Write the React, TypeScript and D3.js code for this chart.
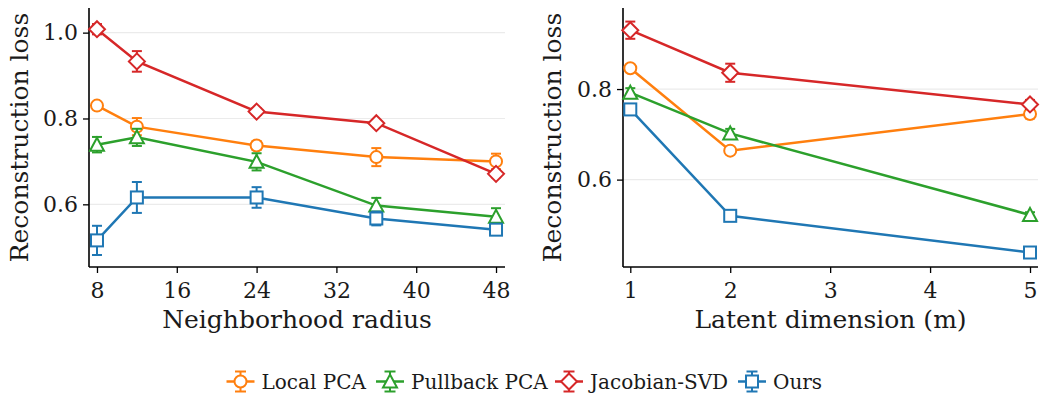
import React, { useEffect, useRef } from 'react';
import * as d3 from 'd3';

const radii = [8, 12, 24, 36, 48];
const dims = [1, 2, 5];

const methods = ['Local PCA', 'Pullback PCA', 'Jacobian-SVD', 'Ours'];
const colors = ['#ff7f0e', '#2ca02c', '#d62728', '#1f77b4'];
const shapes = ['circle', 'triangle', 'diamond', 'square'];

// radius panel: mean and error per method
const radiusMean = [
  [0.830, 0.781, 0.737, 0.710, 0.700],
  [0.739, 0.756, 0.699, 0.597, 0.571],
  [1.008, 0.933, 0.816, 0.789, 0.671],
  [0.516, 0.616, 0.616, 0.567, 0.541],
];
const radiusErr = [
  [0.004, 0.020, 0.010, 0.021, 0.018],
  [0.018, 0.020, 0.020, 0.018, 0.020],
  [0.012, 0.024, 0.008, 0.006, 0.008],
  [0.034, 0.036, 0.024, 0.016, 0.010],
];

// latent dimension panel
const dimMean = [
  [0.846, 0.664, 0.745],
  [0.792, 0.702, 0.522],
  [0.930, 0.836, 0.766],
  [0.755, 0.520, 0.439],
];
const dimErr = [
  [0.004, 0.006, 0.010],
  [0.010, 0.010, 0.006],
  [0.019, 0.020, 0.010],
  [0.010, 0.004, 0.004],
];

const radiusTicks = [8, 16, 24, 32, 40, 48];
const dimTicks = [1, 2, 3, 4, 5];
const radiusYTicks = [0.6, 0.8, 1.0];
const dimYTicks = [0.6, 0.8];

const font = 'DejaVu Serif';

function drawMarker(g: any, shape: string, x: number, y: number, color: string) {
  const common = (s: any) => s.attr('fill', 'white').attr('stroke', color).attr('stroke-width', 2);
  if (shape === 'circle') {
    common(g.append('circle').attr('cx', x).attr('cy', y).attr('r', 6));
  } else if (shape === 'square') {
    common(g.append('rect').attr('x', x - 6).attr('y', y - 6).attr('width', 12).attr('height', 12));
  } else if (shape === 'diamond') {
    common(g.append('path').attr('d', `M${x},${y - 8}L${x + 8},${y}L${x},${y + 8}L${x - 8},${y}Z`));
  } else {
    common(g.append('path').attr('d', `M${x},${y - 7}L${x + 7},${y + 6}L${x - 7},${y + 6}Z`));
  }
}

function drawPanel(svg: any, opts: any) {
  const { left, right, top, bottom, xDomain, yDomain, xs, means, errs, xTicks, yTicks, yFmt, xLabel } = opts;
  const x = d3.scaleLinear().domain(xDomain).range([left, right]);
  const y = d3.scaleLinear().domain(yDomain).range([bottom, top]);
  const g = svg.append('g');

  yTicks.forEach((t: number) => {
    g.append('line')
      .attr('x1', left).attr('x2', right)
      .attr('y1', y(t)).attr('y2', y(t))
      .attr('stroke', '#ebebeb').attr('stroke-width', 1.2);
  });

  const xAxis = g.append('g')
    .attr('transform', `translate(0,${bottom})`)
    .call(d3.axisBottom(x).tickValues(xTicks).tickSize(6).tickPadding(9).tickFormat(d3.format('d')));
  const yAxis = g.append('g')
    .attr('transform', `translate(${left},0)`)
    .call(d3.axisLeft(y).tickValues(yTicks).tickSize(6).tickPadding(5).tickFormat(yFmt));
  [xAxis, yAxis].forEach((a) => {
    a.select('.domain').attr('stroke', '#000').attr('stroke-width', 1.6);
    a.selectAll('.tick line').attr('stroke', '#000').attr('stroke-width', 1.3);
    a.selectAll('.tick text').attr('fill', '#1a1a1a').style('font-family', font).style('font-size', '22px');
  });
  xAxis.select('.domain').attr('d', `M${left},0H${right}`);
  yAxis.select('.domain').attr('d', `M0,${bottom}V${top}`);

  g.append('text')
    .attr('x', (left + right) / 2).attr('y', bottom + 61)
    .attr('text-anchor', 'middle')
    .style('font-family', font).style('font-size', '25px').attr('fill', '#1a1a1a')
    .text(xLabel);
  g.append('text')
    .attr('transform', `translate(${opts.yLabelX},${(top + bottom) / 2}) rotate(-90)`)
    .attr('text-anchor', 'middle')
    .style('font-family', font).style('font-size', '25px').attr('fill', '#1a1a1a')
    .text('Reconstruction loss');

  const line = d3.line<[number, number]>().x((d) => x(d[0])).y((d) => y(d[1]));
  methods.forEach((m, i) => {
    const pts: [number, number][] = xs.map((v: number, j: number) => [v, means[i][j]]);
    g.append('path').attr('d', line(pts)).attr('fill', 'none')
      .attr('stroke', colors[i]).attr('stroke-width', 2.5);
    pts.forEach(([px, py], j) => {
      const e = errs[i][j];
      const cx = x(px);
      g.append('line').attr('x1', cx).attr('x2', cx).attr('y1', y(py - e)).attr('y2', y(py + e))
        .attr('stroke', colors[i]).attr('stroke-width', 2);
      [py - e, py + e].forEach((v) => {
        g.append('line').attr('x1', cx - 5).attr('x2', cx + 5).attr('y1', y(v)).attr('y2', y(v))
          .attr('stroke', colors[i]).attr('stroke-width', 2);
      });
      drawMarker(g, shapes[i], cx, y(py), colors[i]);
    });
  });
}

export default function App() {
  const svgRef = useRef<SVGSVGElement>(null);

  useEffect(() => {
    if (!svgRef.current) return;
    const svg = d3.select(svgRef.current);
    svg.selectAll('*').remove();

    drawPanel(svg, {
      left: 89, right: 505, top: 8, bottom: 267,
      xDomain: [7.2, 48.9], yDomain: [0.454, 1.0574],
      xs: radii, means: radiusMean, errs: radiusErr,
      xTicks: radiusTicks, yTicks: radiusYTicks, yFmt: d3.format('.1f'),
      xLabel: 'Neighborhood radius', yLabelX: 28,
    });
    drawPanel(svg, {
      left: 623, right: 1038, top: 8, bottom: 267,
      xDomain: [0.927, 5.08], yDomain: [0.407, 0.979],
      xs: dims, means: dimMean, errs: dimErr,
      xTicks: dimTicks, yTicks: dimYTicks, yFmt: d3.format('.1f'),
      xLabel: 'Latent dimension (m)', yLabelX: 561,
    });

    // legend
    const legX = [240.5, 390, 569, 752];
    const legY = 381.5;
    const lg = svg.append('g');
    methods.forEach((m, i) => {
      const cx = legX[i];
      lg.append('line').attr('x1', cx - 14).attr('x2', cx + 14).attr('y1', legY).attr('y2', legY)
        .attr('stroke', colors[i]).attr('stroke-width', 2.5);
      lg.append('line').attr('x1', cx).attr('x2', cx).attr('y1', legY - 10).attr('y2', legY + 10)
        .attr('stroke', colors[i]).attr('stroke-width', 2);
      [legY - 10, legY + 10].forEach((v) => {
        lg.append('line').attr('x1', cx - 5.5).attr('x2', cx + 5.5).attr('y1', v).attr('y2', v)
          .attr('stroke', colors[i]).attr('stroke-width', 2);
      });
      drawMarker(lg, shapes[i], cx, legY, colors[i]);
      lg.append('text').attr('x', cx + 21).attr('y', 388.5)
        .style('font-family', font).style('font-size', '20px').attr('fill', '#1a1a1a')
        .text(m);
    });
  }, []);

  return (
    <svg
      ref={svgRef}
      width={1040}
      height={397}
      style={{ position: 'absolute', left: 0, top: 0, background: 'white' }}
    />
  );
}
